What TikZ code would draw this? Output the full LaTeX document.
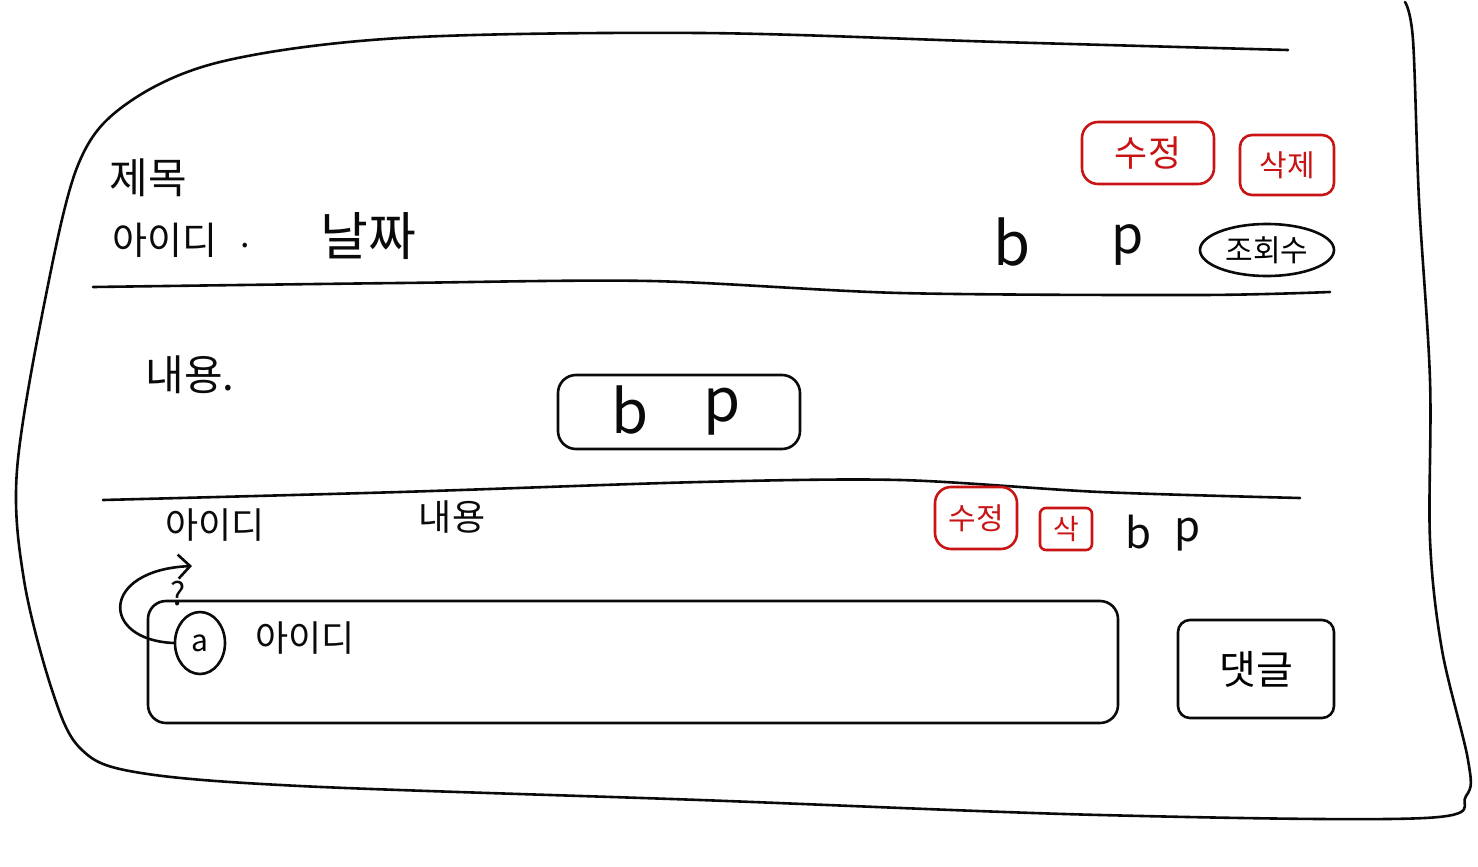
\documentclass[tikz,border=0pt]{standalone}
\usepackage{fontspec}
\setmainfont{Noto Sans CJK KR}
\usetikzlibrary{arrows.meta,shapes.geometric}
\definecolor{pen}{RGB}{10,10,10}
\definecolor{redpen}{RGB}{200,20,20}
\tikzset{
  ink/.style={line width=1.3pt, line cap=round, line join=round, draw=pen},
  lbl/.style={inner sep=0pt, text=pen, font=\fontsize{17}{17}\selectfont},
  big/.style={lbl, font=\fontsize{21}{21}\selectfont},
  bp/.style={inner sep=0pt, text=pen, font=\fontsize{30}{30}\selectfont},
  smallbp/.style={inner sep=0pt, text=pen, font=\fontsize{21}{21}\selectfont},
  redbox/.style={draw=redpen, line width=1.3pt, rounded corners=8pt, text=redpen, inner sep=0pt},
  blackbox/.style={ink, rounded corners=9pt, inner sep=0pt},
}
\begin{document}
\begin{tikzpicture}[x=0.5pt,y=-0.5pt]
\useasboundingbox (0,0) rectangle (1478,867);
% outer frame
\draw[ink] plot[smooth, tension=0.55] coordinates {(1288,50) (1000,42) (700,33) (400,38) (220,62) (125,105) (78,165) (45,300) (17,470) (24,580) (52,690) (80,748) (135,772) (300,786) (700,800) (1100,815) (1425,818) (1466,796) (1468,760) (1442,650) (1430,540) (1430,380) (1419,200) (1413,40) (1405,2)};
% dividers
\draw[ink] plot[smooth] coordinates {(93,287) (400,283) (650,281) (900,293) (1200,295) (1330,292)};
\draw[ink] plot[smooth] coordinates {(103,500) (400,492) (700,482) (900,480) (1100,492) (1300,498)};
% header
\node[big] (title) at (148,178) {제목};
\node[lbl, font=\fontsize{19}{19}\selectfont] (author) at (165,240) {아이디};
\node[lbl] (dot1) at (245,246) {.};
\node[big, font=\fontsize{26}{26}\selectfont] (date) at (368,236) {날짜};
\node[bp] (b1) at (1012,242) {b};
\node[bp, font=\fontsize{26}{26}\selectfont] (p1) at (1128,245) {p};
\node[ink, draw, ellipse, inner sep=0pt, minimum width=67pt, minimum height=26pt, font=\fontsize{15}{15}\selectfont] (views) at (1267,250) {조회수};
\node[redbox, minimum width=66pt, minimum height=31pt, font=\fontsize{18}{18}\selectfont] (edit1) at (1148,153) {수정};
\node[redbox, rounded corners=6pt, minimum width=47pt, minimum height=30pt, font=\fontsize{15}{15}\selectfont] (del1) at (1287,165) {삭제};
% content
\node[big] (content) at (190,375) {내용.};
\node[blackbox, minimum width=121pt, minimum height=37pt] (likebox) at (679,412) {};
\node[bp] (b2) at (630,410) {b};
\node[bp] (p2) at (722,412) {p};
% comment row
\node[lbl, font=\fontsize{18}{18}\selectfont] (id2) at (215,525) {아이디};
\node[lbl, font=\fontsize{18}{18}\selectfont] (content2) at (452,517) {내용};
\node[redbox, minimum width=41pt, minimum height=31pt, font=\fontsize{15}{15}\selectfont] (edit2) at (976,518) {수정};
\node[redbox, rounded corners=3pt, minimum width=26pt, minimum height=21pt, font=\fontsize{14}{14}\selectfont] (del2) at (1066,529) {삭};
\node[smallbp] (b3) at (1138,532) {b};
\node[smallbp] (p3) at (1188,535) {p};
% comment input
\node[blackbox, minimum width=485pt, minimum height=61pt] (cbox) at (633,662) {};
\node[ink, draw, ellipse, inner sep=0pt, minimum width=25pt, minimum height=31pt, font=\fontsize{15}{15}\selectfont] (avatar) at (200,643) {a};
\node[lbl, font=\fontsize{18}{18}\selectfont] (id3) at (305,638) {아이디};
\node[blackbox, rounded corners=6pt, minimum width=78pt, minimum height=49pt, font=\fontsize{20}{20}\selectfont] (reply) at (1256,669) {댓글};
% arrow with question mark
\coordinate (arrowtip) at (192,566);
\draw[ink, -{Straight Barb[length=6pt]}] (avatar.west) .. controls (100,640) and (100,570) .. (arrowtip);
\node[lbl, font=\fontsize{16}{16}\selectfont] (qmark) at (178,594) {?};
\end{tikzpicture}
\end{document}
